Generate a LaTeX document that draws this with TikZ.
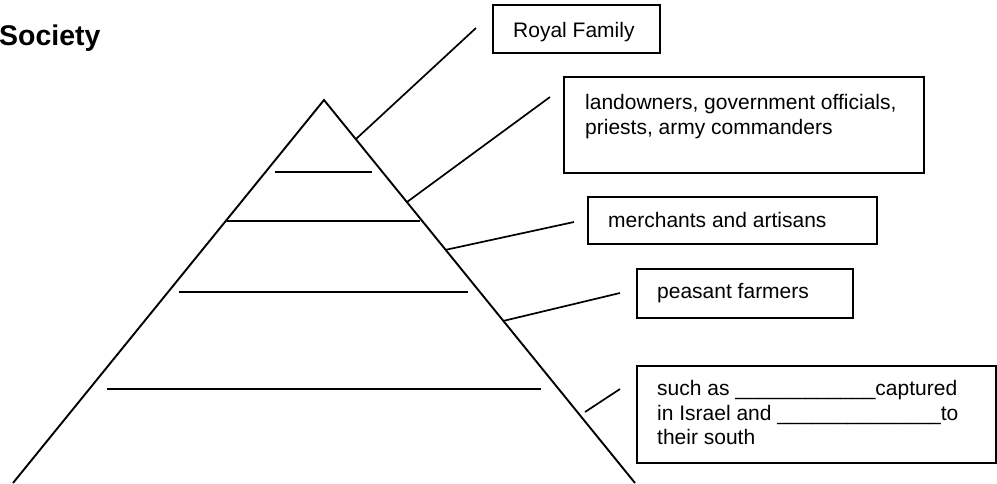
\documentclass[tikz,border=0pt]{standalone}
\usepackage{fontspec}
\setmainfont{Liberation Sans}
\begin{document}
\begin{tikzpicture}[x=1pt,y=-1pt,
  box/.style={draw, line width=1.9pt, anchor=north west, inner sep=0pt},
  txt/.style={anchor=base west, inner sep=0pt, font=\fontsize{21}{24}\selectfont},
  tier/.style={line width=1.9pt},
  link/.style={line width=1.7pt}]
\useasboundingbox (0,0) rectangle (997,483);

% title
\node[anchor=base west, inner sep=0pt, font=\bfseries\fontsize{28.5}{30}\selectfont] (title) at (-1,45) {Society};

% pyramid
\coordinate (apex) at (324,100);
\coordinate (bl) at (13,483);
\coordinate (br) at (635,483);
\draw[tier] (bl) -- (apex) -- (br);

\coordinate (t1l) at (275,172); \coordinate (t1r) at (372,172);
\coordinate (t2l) at (227,221); \coordinate (t2r) at (420,221);
\coordinate (t3l) at (179,292); \coordinate (t3r) at (468,292);
\coordinate (t4l) at (107,389); \coordinate (t4r) at (541,389);
\draw[tier] (t1l) -- (t1r);
\draw[tier] (t2l) -- (t2r);
\draw[tier] (t3l) -- (t3r);
\draw[tier] (t4l) -- (t4r);

% boxes
\node[box, minimum width=167pt, minimum height=48pt] (royal) at (492,4) {};
\node[box, minimum width=360pt, minimum height=96pt] (land) at (563,76) {};
\node[box, minimum width=289pt, minimum height=47pt] (merch) at (587,196) {};
\node[box, minimum width=216pt, minimum height=49pt] (peas) at (636,268) {};
\node[box, minimum width=359pt, minimum height=97pt] (such) at (636,365) {};

% texts
\node[txt] (royalt) at (513,37) {Royal Family};
\node[txt] (landt1) at (585,109) {landowners, government officials,};
\node[txt] (landt2) at (585,134) {priests, army commanders};
\node[txt] (mercht) at (608,227) {merchants and artisans};
\node[txt] (peast) at (657,298) {peasant farmers};
\node[txt] (sucht1) at (657,395) {such as \_\_\_\_\_\_\_\_\_\_\_\_captured};
\node[txt] (sucht2) at (657,420) {in Israel and \_\_\_\_\_\_\_\_\_\_\_\_\_\_to};
\node[txt] (sucht3) at (657,444) {their south};

% connectors
\coordinate (c1a) at (356,139); \coordinate (c1b) at (476,28);
\coordinate (c2a) at (407,202); \coordinate (c2b) at (550,97);
\coordinate (c3a) at (445,250); \coordinate (c3b) at (574,222);
\coordinate (c4a) at (503,321); \coordinate (c4b) at (620,293);
\coordinate (c5a) at (585,412); \coordinate (c5b) at (620,389);
\draw[link] (c1a) -- (c1b);
\draw[link] (c2a) -- (c2b);
\draw[link] (c3a) -- (c3b);
\draw[link] (c4a) -- (c4b);
\draw[link] (c5a) -- (c5b);
\end{tikzpicture}
\end{document}
